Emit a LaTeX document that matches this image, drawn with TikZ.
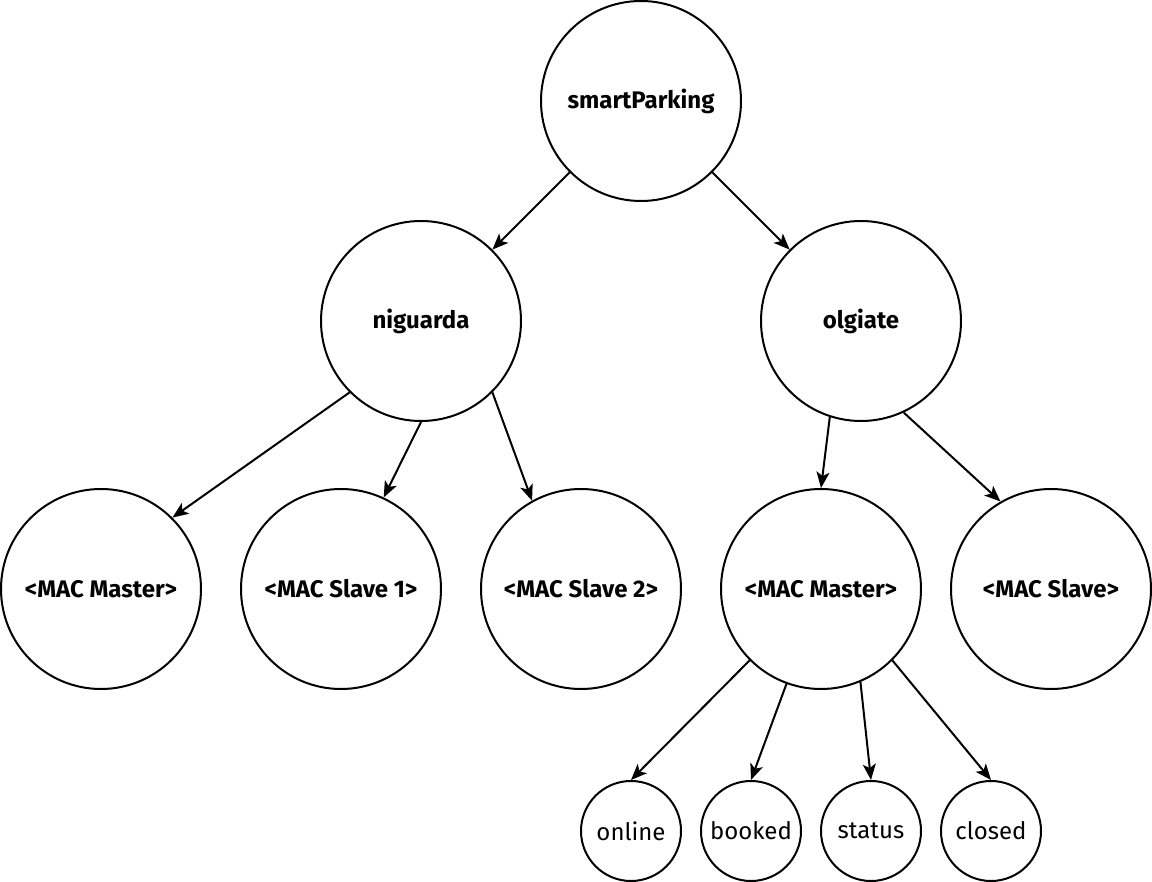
\documentclass[tikz,border=0pt]{standalone}
\usepackage{fontspec}
\setmainfont{Fira Sans}
\usepackage{tikz}
\usetikzlibrary{shapes,arrows.meta}
\tikzset{
  bignode/.style={circle, draw, line width=2pt, minimum size=200pt, inner sep=0pt, font=\fontsize{24}{28}\selectfont\bfseries},
  leafnode/.style={circle, draw, line width=2pt, minimum size=100pt, inner sep=0pt, font=\fontsize{24}{28}\selectfont},
  treearrow/.style={line width=2pt, -{Stealth[length=16pt, width=13pt, inset=4pt]}}
}
\newcommand{\treenode}[3] {\node at (#1) (#2) [bignode] {#3};}
\newcommand{\leafnode}[3] {\node at (#1) (#2) [leafnode] {#3};}
\newcommand{\treeedge}[2] {\draw [treearrow] (#1) -- (#2);}

\begin{document}
\begin{tikzpicture}[x=1pt, y=-1pt]
\useasboundingbox (0,0) rectangle (1152,882);

\treenode {641,101}{smart}{smartParking};
\treenode {421,321}{nig}{niguarda};
\treenode {861,321}{olg}{olgiate};
\treenode {101,589}{nigmaster}{<MAC Master>};
\treenode {341,589}{nigslaveA}{<MAC Slave 1>};
\treenode {581,589}{nigslaveB}{<MAC Slave 2>};
\treenode {821,589}{olgmaster}{<MAC Master>};
\treenode {1051,589}{olgslave}{<MAC Slave>};
\leafnode {631,831}{online}{online};
\leafnode {751,831}{booked}{booked};
\leafnode {871,831}{status}{status};
\leafnode {991,831}{closed}{closed};

\treeedge{smart.225}{nig.45};
\treeedge{smart.-45}{olg.135};
\treeedge{nig.225}{nigmaster.45};
\treeedge{nig.270}{nigslaveA.65};
\treeedge{nig.-45}{nigslaveB.119};
\treeedge{olg.252}{olgmaster.90};
\treeedge{olg.-65}{olgslave.120};
\treeedge{olgmaster.225}{online.90};
\treeedge{olgmaster.250}{booked.90};
\treeedge{olgmaster.-67}{status.90};
\treeedge{olgmaster.-45}{closed.90};

\end{tikzpicture}
\end{document}
